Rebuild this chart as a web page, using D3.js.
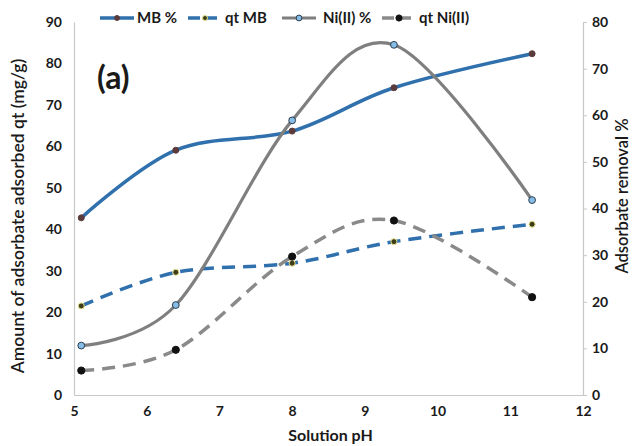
<!doctype html>
<html lang="en">
<head>
  <meta charset="utf-8">
  <title>Adsorption vs solution pH</title>
  <script src="https://cdn.jsdelivr.net/npm/d3@7"></script>
  <style>
    body { margin: 0; background: #fff; }
    svg text { font-family: Lato, "Liberation Sans", sans-serif; fill: #1a1a1a; }
    .tick text { font-weight: bold; font-size: 14px; }
  </style>
</head>
<body>
  <div id="chart"></div>
  <script>
    // values
    var ph = [5.1, 6.4, 8.0, 9.4, 11.3];
    var mbPct = [38.0, 52.5, 56.6, 65.9, 73.2];   // right axis
    var qtMB = [21.5, 29.6, 31.8, 37.0, 41.2];    // left axis
    var niPct = [10.6, 19.3, 58.9, 75.1, 41.8];   // right axis
    var qtNi = [5.9, 10.9, 33.4, 42.1, 23.6];     // left axis
    var xTicks = [5, 6, 7, 8, 9, 10, 11, 12];
    var leftTicks = [0, 10, 20, 30, 40, 50, 60, 70, 80, 90];
    var rightTicks = [0, 10, 20, 30, 40, 50, 60, 70, 80];

    // plot box (note: "top" is a reserved window property, so use a margin object)
    var W = 634, H = 446;
    var box = { left: 74, right: 583, top: 22, bottom: 395 };

    var svg = d3.select("#chart").append("svg")
      .attr("width", W)
      .attr("height", H);

    var x = d3.scaleLinear().domain([5, 12]).range([box.left, box.right]);
    var yL = d3.scaleLinear().domain([0, 90]).range([box.bottom, box.top]);
    var yR = d3.scaleLinear().domain([0, 80]).range([box.bottom, box.top]);

    // axes
    var gx = svg.append("g")
      .attr("transform", "translate(0," + box.bottom + ")")
      .call(d3.axisBottom(x).tickValues(xTicks).tickFormat(d3.format("d")).tickSize(0).tickPadding(11));
    var gl = svg.append("g")
      .attr("transform", "translate(" + box.left + ",0)")
      .call(d3.axisLeft(yL).tickValues(leftTicks).tickSize(0).tickPadding(12));
    var gr = svg.append("g")
      .attr("transform", "translate(" + box.right + ",0)")
      .call(d3.axisRight(yR).tickValues(rightTicks).tickSize(4).tickPadding(5));
    [gx, gl, gr].forEach(function (g) {
      g.select(".domain").attr("stroke", "#c8c8c8").attr("stroke-width", 1.2);
      g.selectAll(".tick line").attr("stroke", "#c8c8c8");
    });

    // axis titles
    svg.append("text")
      .attr("x", (box.left + box.right) / 2 + 2).attr("y", 441)
      .attr("text-anchor", "middle")
      .style("font-weight", "bold").style("font-size", "16px")
      .text("Solution pH");
    svg.append("text")
      .attr("transform", "translate(24,216) rotate(-90)")
      .attr("text-anchor", "middle")
      .style("font-weight", "600").style("font-size", "17.5px")
      .text("Amount of adsorbate adsorbed qt (mg/g)");
    svg.append("text")
      .attr("transform", "translate(628,196) rotate(-90)")
      .attr("text-anchor", "middle")
      .style("font-weight", "600").style("font-size", "16.5px")
      .text("Adsorbate removal %");

    svg.append("text")
      .attr("x", 97).attr("y", 89)
      .style("font-weight", "bold").style("font-size", "32px")
      .text("(a)");

    var series = [
      { name: "MB %", vals: mbPct, y: yR, color: "#2f70ad", dash: null, w: 3.5, r: 3, fill: "#5b3b3b", stroke: "#5b3b3b" },
      { name: "qt MB", vals: qtMB, y: yL, color: "#2f70ad", dash: "13,8", w: 3.5, r: 3, fill: "#3d3d1a", stroke: "#e8e08a" },
      { name: "Ni(II) %", vals: niPct, y: yR, color: "#7f7f7f", dash: null, w: 3.2, r: 3.4, fill: "#86bde6", stroke: "#2c3e50" },
      { name: "qt Ni(II)", vals: qtNi, y: yL, color: "#8a8a8a", dash: "13,8", w: 3.5, r: 3.6, fill: "#111", stroke: "#111" }
    ];

    series.forEach(function (s) {
      var pts = ph.map(function (p, i) { return [p, s.vals[i]]; });
      var line = d3.line()
        .x(function (d) { return x(d[0]); })
        .y(function (d) { return s.y(d[1]); })
        .curve(d3.curveCardinal.tension(0));
      svg.append("path")
        .datum(pts)
        .attr("d", line)
        .attr("fill", "none")
        .attr("stroke", s.color)
        .attr("stroke-width", s.w)
        .attr("stroke-dasharray", s.dash);
      svg.append("g").selectAll("circle")
        .data(pts)
        .enter()
        .append("circle")
        .attr("cx", function (d) { return x(d[0]); })
        .attr("cy", function (d) { return s.y(d[1]); })
        .attr("r", s.r)
        .attr("fill", s.fill)
        .attr("stroke", s.stroke)
        .attr("stroke-width", 1);
    });

    // legend
    var legX = [100, 188, 282, 382];
    var leg = svg.append("g");
    series.forEach(function (s, i) {
      var g = leg.append("g").attr("transform", "translate(" + legX[i] + ",18)");
      g.append("line")
        .attr("x1", 0).attr("x2", 34)
        .attr("stroke", s.color).attr("stroke-width", s.w)
        .attr("stroke-dasharray", s.dash ? "12,5" : null);
      g.append("circle")
        .attr("cx", 17).attr("r", s.r - 0.5)
        .attr("fill", s.fill).attr("stroke", s.stroke);
      g.append("text")
        .attr("x", i == 2 ? 41 : 37).attr("y", 5)
        .style("font-weight", "bold").style("font-size", "15px")
        .text(s.name);
    });
  </script>
</body>
</html>
